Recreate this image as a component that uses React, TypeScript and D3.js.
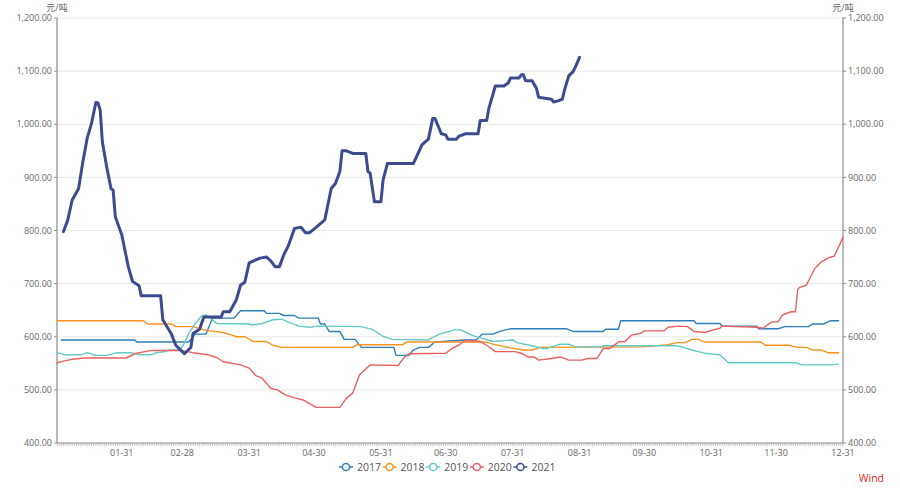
import React from "react";
import * as d3 from "d3";

const seriesNames = ["2017", "2018", "2019", "2020", "2021"];
const seriesColors = ["#2f7fb6", "#f7931e", "#62c9c4", "#e8605f", "#3c4b8e"];

const dates2017 = ["01-03","02-06","02-07","03-03","03-04","03-06","03-11","03-13","03-14","03-24","03-27","04-07","04-08","04-14","04-16","04-21","04-23","05-02","05-03","05-05","05-07","05-12","05-14","05-19","05-22","06-06","06-07","06-13","06-15","06-18","06-22","06-25","07-09","07-14","07-17","07-22","07-25","07-30","08-25","08-28","09-11","09-12","09-18","09-19","10-23","10-24","11-04","11-05","11-21","11-22","12-01","12-04","12-15","12-17","12-22","12-25","12-29"];
const values2017 = [594,594,590,590,595,605,605,625,635,635,649,649,644,644,640,640,635,635,624,624,610,610,595,595,580,580,565,565,575,580,580,590,594,594,605,605,610,615,615,610,610,614,614,630,630,625,625,620,620,615,615,619,619,624,624,630,630];

const dates2018 = ["01-01","02-10","02-12","02-23","02-25","03-05","03-11","03-19","03-23","03-25","03-29","04-02","04-08","04-11","04-15","05-18","05-20","06-10","06-12","07-19","07-22","07-30","08-05","08-09","08-13","09-29","10-11","10-15","10-19","10-22","10-25","10-28","11-23","11-25","12-06","12-10","12-14","12-17","12-21","12-24","12-29"];
const values2018 = [630,630,624,624,619,619,612,608,603,600,600,591,591,584,580,580,585,585,590,590,586,579,575,575,580,581,585,589,589,595,595,590,590,584,584,580,580,575,575,570,570];

const dates2019 = ["01-01","01-05","01-12","01-15","01-19","01-24","01-29","02-04","02-09","02-14","02-16","02-20","02-22","02-27","03-01","03-03","03-06","03-09","03-11","03-14","03-16","03-31","04-01","04-06","04-11","04-15","04-18","04-23","04-28","05-02","05-22","05-27","06-01","06-05","06-22","06-27","07-02","07-04","07-07","07-12","07-17","07-22","07-31","08-02","08-09","08-14","08-16","08-22","08-26","08-29","09-10","09-11","10-15","10-18","10-22","10-25","10-28","11-01","11-04","11-08","12-09","12-12","12-26","12-29"];
const values2019 = [570,566,566,570,565,565,570,570,566,566,570,572,575,575,588,606,625,639,641,632,625,624,622,625,632,633,628,620,618,620,619,614,601,595,594,605,610,613,613,603,597,591,594,589,583,578,578,586,586,581,581,583,583,580,575,572,569,567,566,551,551,547,547,549];

const dates2020 = ["01-01","01-05","01-09","01-14","02-02","02-06","02-13","02-28","03-05","03-12","03-16","03-19","03-27","03-31","04-03","04-06","04-10","04-13","04-17","04-21","04-25","05-01","05-12","05-15","05-18","05-21","05-26","06-08","06-11","06-13","06-30","07-03","07-06","07-09","07-16","07-19","07-23","08-01","08-04","08-07","08-10","08-12","08-18","08-22","08-26","09-01","09-04","09-08","09-11","09-14","09-18","09-21","09-24","09-28","09-30","10-09","10-11","10-16","10-20","10-23","10-28","11-01","11-04","11-05","11-21","11-24","11-28","12-01","12-03","12-07","12-09","12-10","12-11","12-14","12-18","12-21","12-24","12-27","12-31"];
const values2020 = [551,555,558,560,560,568,574,574,570,566,561,553,547,541,527,522,503,500,490,485,481,467,467,484,494,528,547,546,562,568,569,578,584,593,591,584,572,572,569,562,562,556,559,562,556,556,559,559,578,578,590,591,603,606,611,611,618,620,619,610,608,613,616,620,618,616,628,628,641,647,647,689,693,697,729,741,748,752,787];

const dates2021 = ["01-04","01-06","01-08","01-11","01-13","01-15","01-17","01-19","01-20","01-21","01-22","01-24","01-26","01-27","01-28","01-31","02-03","02-05","02-08","02-09","02-18","02-19","02-23","02-25","03-01","03-03","03-04","03-05","03-08","03-10","03-18","03-19","03-22","03-25","03-27","03-29","03-31","04-01","04-05","04-08","04-10","04-12","04-14","04-16","04-18","04-21","04-24","04-26","04-28","05-01","05-05","05-08","05-10","05-12","05-13","05-15","05-18","05-24","05-25","05-26","05-28","05-31","06-01","06-03","06-15","06-18","06-19","06-22","06-24","06-25","06-27","06-28","06-30","07-01","07-05","07-06","07-09","07-15","07-16","07-19","07-20","07-23","07-27","07-29","07-30","08-03","08-04","08-05","08-06","08-09","08-11","08-12","08-15","08-18","08-19","08-21","08-23","08-24","08-26","08-28","08-29","08-31"];
const values2021 = [798,820,857,879,930,974,1002,1041,1040,1027,967,920,879,876,826,792,732,704,696,677,677,632,605,584,568,576,580,606,614,637,637,647,647,669,697,703,739,741,748,750,743,732,732,754,770,804,806,796,796,806,820,879,889,911,950,950,945,945,911,908,854,854,895,926,926,952,961,972,1011,1011,992,982,980,972,972,977,982,982,1007,1007,1030,1072,1072,1078,1087,1087,1093,1093,1082,1082,1068,1051,1049,1047,1042,1044,1047,1064,1091,1099,1107,1126];

const xTickLabels = ["01-31","02-28","03-31","04-30","05-31","06-30","07-31","08-31","09-30","10-31","11-30","12-31"];
const yTicks = [400, 500, 600, 700, 800, 900, 1000, 1100, 1200];
const unitLabel = "元/吨";
const sourceLabel = "Wind";

const allDates = [dates2017, dates2018, dates2019, dates2020, dates2021];
const allValues = [values2017, values2018, values2019, values2020, values2021];

const W = 900, H = 490;
const L = 57, R = 843, T = 18, B = 443;
const FONT = "'Open Sans', 'Noto Sans CJK SC', sans-serif";

const parse = (s: string) => {
  const [m, d] = s.split("-").map(Number);
  return new Date(2021, m - 1, d);
};

export default function App() {
  const x = d3.scaleTime().domain([new Date(2021, 0, 1), new Date(2021, 11, 31)]).range([L, R]);
  const y = d3.scaleLinear().domain([400, 1200]).range([B, T]);
  const fmt = d3.format(",.2f");
  const line = d3.line<[Date, number]>().x(d => x(d[0])).y(d => y(d[1]));
  const days = d3.timeDay.range(new Date(2021, 0, 1), new Date(2022, 0, 1));

  return (
    <svg width={W} height={H} style={{ position: "absolute", left: 0, top: 0, background: "#fff" }} fontFamily={FONT}>
      {yTicks.filter(t => t > 400).map(t => (
        <line key={"g" + t} x1={L} x2={R} y1={y(t)} y2={y(t)} stroke="#e8e8e8" strokeWidth={1} />
      ))}
      {/* left axis */}
      <line x1={L} x2={L} y1={T} y2={B} stroke="#8c8c8c" strokeWidth={1.2} />
      <line x1={R} x2={R} y1={T} y2={B} stroke="#8c8c8c" strokeWidth={1.2} />
      {yTicks.map(t => (
        <g key={"yt" + t}>
          <line x1={L - 3} x2={L} y1={y(t)} y2={y(t)} stroke="#8c8c8c" />
          <text x={L - 5} y={y(t)} dy="0.35em" textAnchor="end" fontSize={9} fill="#666">{fmt(t)}</text>
          <line x1={R} x2={R + 3} y1={y(t)} y2={y(t)} stroke="#8c8c8c" />
          <text x={R + 5} y={y(t)} dy="0.35em" textAnchor="start" fontSize={9} fill="#666">{fmt(t)}</text>
        </g>
      ))}
      <text x={L} y={11} textAnchor="middle" fontSize={9} fill="#666">{unitLabel}</text>
      <text x={R} y={11} textAnchor="middle" fontSize={9} fill="#666">{unitLabel}</text>
      {/* bottom axis */}
      <line x1={L} x2={R} y1={B} y2={B} stroke="#8c8c8c" strokeWidth={1.2} />
      {days.map((d, i) => (
        <line key={"dt" + i} x1={x(d)} x2={x(d)} y1={B} y2={B + 3} stroke="#999" strokeWidth={0.6} />
      ))}
      {xTickLabels.map(s => (
        <text key={"xl" + s} x={x(parse(s))} y={456} textAnchor="middle" fontSize={9} fill="#666">{s}</text>
      ))}
      {/* lines */}
      {seriesNames.map((name, i) => {
        const pts: [Date, number][] = allDates[i].map((s, j) => [parse(s), allValues[i][j]]);
        return (
          <path key={name} d={line(pts) || ""} fill="none" stroke={seriesColors[i]}
            strokeWidth={name === "2021" ? 3 : 1.4} strokeLinejoin="round" strokeLinecap="round" />
        );
      })}
      {/* legend */}
      {seriesNames.map((name, i) => {
        const lx = 339 + i * 43.6;
        return (
          <g key={"lg" + name}>
            <line x1={lx} x2={lx + 14} y1={467} y2={467} stroke={seriesColors[i]} strokeWidth={1.5} />
            <circle cx={lx + 7} cy={467} r={3.6} fill="#fff" stroke={seriesColors[i]} strokeWidth={1.5} />
            <text x={lx + 18} y={467} dy="0.35em" fontSize={10.5} fill="#555">{name}</text>
          </g>
        );
      })}
      <text x={884} y={478} dy="0.35em" textAnchor="end" fontSize={10.5} fill="#e41e1e">{sourceLabel}</text>
    </svg>
  );
}
